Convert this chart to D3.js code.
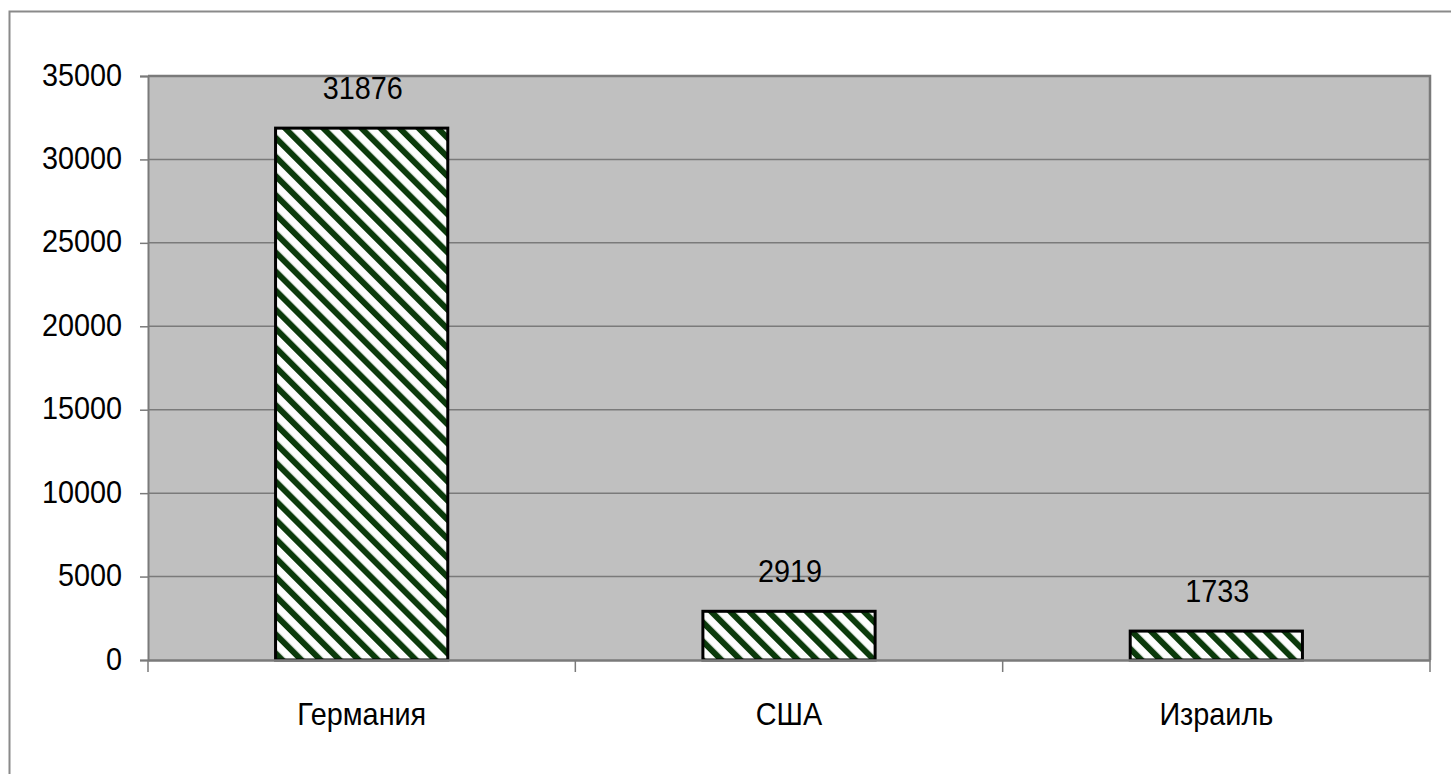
<!DOCTYPE html>
<html><head><meta charset="utf-8">
<script src="https://cdn.jsdelivr.net/npm/d3@7"></script>
<style>html,body{margin:0;padding:0;background:#fff;}svg{display:block;}</style>
</head><body>
<script>
const categories = ["Германия", "США", "Израиль"];
const values = [31876, 2919, 1733];
const yTicks = [0, 5000, 10000, 15000, 20000, 25000, 30000, 35000];

const W = 1451, H = 774;
const m = {left: 148, top: 76, right: 1430, bottom: 660};
const svg = d3.select("body").append("svg").attr("width", W).attr("height", H);
const FONT = "'Liberation Sans', Arial, sans-serif";

// outer chart border (extends beyond the visible frame on right/bottom)
svg.append("rect").attr("x", 9.5).attr("y", 11.5).attr("width", 1470).attr("height", 800)
  .attr("fill", "#fff").attr("stroke", "#8a8a8a").attr("stroke-width", 2);

const defs = svg.append("defs");
const pat = defs.append("pattern").attr("id", "hatch").attr("patternUnits", "userSpaceOnUse")
  .attr("width", 13.5).attr("height", 13.5).attr("patternTransform", "rotate(-45)");
pat.append("rect").attr("width", 13.5).attr("height", 13.5).attr("fill", "#fdfdfd");
pat.append("rect").attr("x", 0).attr("width", 6).attr("height", 13.5).attr("fill", "#0b3a0b");

const x = d3.scaleBand().domain(categories).range([m.left, m.right]).padding(0);
const y = d3.scaleLinear().domain([0, 35000]).range([m.bottom, m.top]);

// plot background
svg.append("rect").attr("x", m.left).attr("y", m.top).attr("width", m.right - m.left)
  .attr("height", m.bottom - m.top).attr("fill", "#c0c0c0");

// gridlines
svg.append("g").selectAll("line").data(yTicks.filter(d => d > 0 && d < 35000)).join("line")
  .attr("x1", m.left).attr("x2", m.right).attr("y1", d => y(d)).attr("y2", d => y(d))
  .attr("stroke", "#7a7a7a").attr("stroke-width", 1.5);

// plot border top & right
svg.append("path").attr("d", `M${m.left},${m.top}H${m.right}V${m.bottom}`)
  .attr("fill", "none").attr("stroke", "#7a7a7a").attr("stroke-width", 2.5);

// y axis
const yAxis = svg.append("g").attr("transform", `translate(${m.left},0)`)
  .call(d3.axisLeft(y).tickValues(yTicks).tickSize(8).tickFormat(d3.format("d")));
yAxis.select(".domain").attr("stroke", "#7a7a7a").attr("stroke-width", 2);
yAxis.selectAll(".tick line").attr("stroke", "#7a7a7a").attr("stroke-width", 1.5);
yAxis.selectAll(".tick text").each(function(d) {
  const t = d3.select(this);
  t.attr("x", null).attr("dy", null).attr("fill", "#000")
   .attr("font-family", FONT).attr("font-size", 32).attr("text-anchor", "end")
   .attr("transform", `translate(-26,9) scale(0.9,1)`);
});
yAxis.attr("font-size", null).attr("font-family", null);

// bars
const bw = x.bandwidth() * 0.403;
svg.append("g").selectAll("rect").data(values).join("rect")
  .attr("x", (d, i) => x(categories[i]) + x.bandwidth() / 2 - bw / 2)
  .attr("y", d => y(d)).attr("width", bw).attr("height", d => y(0) - y(d))
  .attr("fill", "url(#hatch)").attr("stroke", "#000").attr("stroke-width", 3);

// x axis
const xAxis = svg.append("g").attr("transform", `translate(0,${m.bottom})`)
  .call(d3.axisBottom(x).tickSize(0).tickFormat(""));
xAxis.select(".domain").attr("stroke", "#7a7a7a").attr("stroke-width", 2.5);
xAxis.selectAll(".tick").remove();
const bounds = [m.left, ...categories.map(c => x(c) + x.bandwidth())];
svg.append("g").selectAll("line").data(bounds).join("line")
  .attr("x1", d => d).attr("x2", d => d).attr("y1", m.bottom).attr("y2", m.bottom + 12)
  .attr("stroke", "#7a7a7a").attr("stroke-width", 1.5);

// category labels
svg.append("g").selectAll("text").data(categories).join("text")
  .attr("transform", d => `translate(${x(d) + x.bandwidth() / 2},725) scale(0.9,1)`)
  .attr("text-anchor", "middle").attr("font-family", FONT).attr("font-size", 32)
  .attr("fill", "#000").text(d => d);

// value labels
svg.append("g").selectAll("text").data(values).join("text")
  .attr("transform", (d, i) => `translate(${x(categories[i]) + x.bandwidth() / 2 + 1},${y(d) - 29}) scale(0.9,1)`)
  .attr("text-anchor", "middle").attr("font-family", FONT).attr("font-size", 32)
  .attr("fill", "#000").text(d => d);
</script>
</body></html>
